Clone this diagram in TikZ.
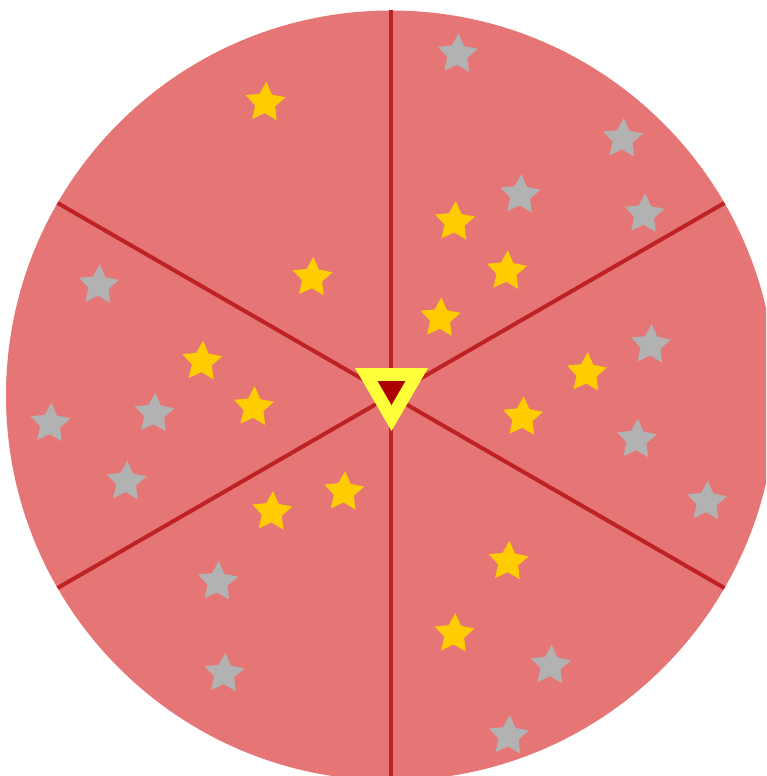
\documentclass[tikz,border=0pt]{standalone}
\usetikzlibrary{shapes.geometric}
\definecolor{disc}{RGB}{230,117,117}
\definecolor{spokecol}{RGB}{190,34,36}
\definecolor{gold}{RGB}{255,204,0}
\definecolor{silver}{RGB}{178,178,178}
\definecolor{tyellow}{RGB}{255,255,59}
\definecolor{tred}{RGB}{170,0,0}
\begin{document}
\begin{tikzpicture}[x=1pt,y=-1pt,
  starbase/.style={star,star points=5,star point ratio=2,minimum size=42pt,inner sep=0pt,draw=none,rotate=-3},
  ystar/.style={starbase,fill=gold},
  gstar/.style={starbase,fill=silver},
  spokeline/.style={draw=spokecol,line width=4pt}]
\useasboundingbox (0,0) rectangle (766,776);
\clip (0,0) rectangle (766,776);
\coordinate (c) at (391,395.5);
\fill[disc] (c) circle[radius=385];
\foreach \a [count=\i] in {30,90,150,210,270,330}{
  \draw[spokeline] (c) -- ++(\a:385) coordinate (e\i);
}
% yellow stars
\node[ystar] (y1) at (265.3,102.7) {};
\node[ystar] (y2) at (312.3,277.7) {};
\node[ystar] (y3) at (454.7,222) {};
\node[ystar] (y4) at (506.7,271.3) {};
\node[ystar] (y5) at (440.3,318.3) {};
\node[ystar] (y6) at (202,361.7) {};
\node[ystar] (y7) at (253.7,407.3) {};
\node[ystar] (y8) at (586.7,373) {};
\node[ystar] (y9) at (522.7,417.3) {};
\node[ystar] (y10) at (344,492) {};
\node[ystar] (y11) at (272,512) {};
\node[ystar] (y12) at (508.3,561.7) {};
\node[ystar] (y13) at (454.3,634) {};
% grey stars
\node[gstar] (g1) at (457.5,54.3) {};
\node[gstar] (g2) at (622.7,139) {};
\node[gstar] (g3) at (520.3,195) {};
\node[gstar] (g4) at (644.3,214.3) {};
\node[gstar] (g5) at (98.7,285.3) {};
\node[gstar] (g6) at (154.3,413.7) {};
\node[gstar] (g7) at (50.3,423.7) {};
\node[gstar] (g8) at (126.3,481.7) {};
\node[gstar] (g9) at (650.7,345) {};
\node[gstar] (g10) at (636.7,439.7) {};
\node[gstar] (g11) at (706.7,501.7) {};
\node[gstar] (g12) at (217.7,582) {};
\node[gstar] (g13) at (224.3,673.7) {};
\node[gstar] (g14) at (550.7,665.7) {};
\node[gstar] (g15) at (508.7,736) {};
% central triangle
\fill[tyellow] (355,368) -- (428,368) -- (391.5,431) -- cycle;
\fill[tred] (377.6,381) -- (405.4,381) -- (391.5,405) -- cycle;
\end{tikzpicture}
\end{document}
